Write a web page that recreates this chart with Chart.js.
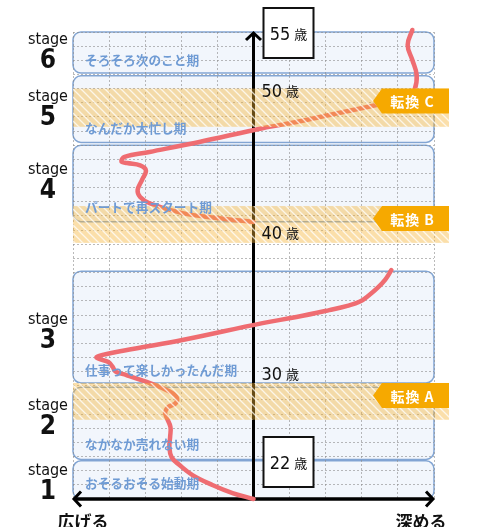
<!DOCTYPE html>
<html><head><meta charset="utf-8">
<script src="https://cdn.jsdelivr.net/npm/chart.js@4/dist/chart.umd.min.js"></script>
<style>html,body{margin:0;padding:0;background:#fff;overflow:hidden}canvas{display:block}</style>
</head><body>
<canvas id="c" width="480" height="527"></canvas>
<script>
// ---- data ----
const stageNumbers = ['1','2','3','4','5','6'];
const stageNames = ['おそるおそる始動期','なかなか売れない期','仕事って楽しかったんだ期','パートで再スタート期','なんだか大忙し期','そろそろ次のこと期'];
const stageStart = [22, 24.8, 30.2, 41.6, 47.2, 52.1];
const stageEnd   = [24.7, 29.9, 38.1, 47.0, 51.9, 55];
const stageLabelAge = [23.98, 28.57, 34.65, 45.25, 50.4, 54.43];
const stageNameAge  = [23.1, 25.9, 31.1, 42.6, 48.2, 53.0];
const turnLabels = ['転換 A','転換 B','転換 C'];
const turnFrom = [27.6, 40.1, 48.3];
const turnTo   = [30.2, 42.7, 51.0];
const ageTicks = [30, 40, 50];
const ageEnds = [22, 55];
const axisLabels = ['広げる', '深める'];
const ageUnit = '歳';

const path1X = [0, -0.58, -1.14, -1.69, -2.05, -2.27, -2.33, -2.31, -2.30, -2.40, -2.45, -2.36, -2.16, -2.12, -2.26, -2.55, -2.96, -3.52, -3.82, -3.90, -4.02, -4.27, -4.35, -4.21, -3.35, -1.97, 0.25, 1.19, 2.10, 2.60, 2.95, 3.20, 3.45, 3.65, 3.82];
const path1Y = [22, 22.42, 22.99, 23.69, 24.40, 24.96, 25.67, 26.38, 27.08, 27.72, 28.12, 28.50, 28.76, 29.13, 29.50, 29.86, 30.27, 30.76, 31.00, 31.33, 31.68, 31.89, 32.03, 32.17, 32.60, 33.23, 34.43, 34.86, 35.35, 35.65, 35.95, 36.40, 36.95, 37.50, 38.18];
const path2X = [0, -1.02, -1.97, -2.88, -3.14, -3.21, -3.09, -2.98, -3.14, -3.50, -3.66, -3.57, -2.88, -1.50, 0.25, 1.19, 2.10, 3.02, 3.75, 4.30, 4.46, 4.52, 4.40, 4.27, 4.40];
const path2Y = [41.57, 41.86, 42.20, 42.90, 43.34, 43.83, 44.54, 45.22, 45.58, 45.74, 45.85, 46.17, 46.52, 47.23, 48.20, 48.64, 49.13, 49.63, 50.05, 50.50, 50.90, 51.96, 53.02, 54.08, 55.14];

const toPts = (xs, ys) => xs.map((x, i) => ({x, y: ys[i]}));

const JP = '"Noto Sans CJK JP", "Noto Sans", sans-serif';
const NARROW = '"Liberation Sans Narrow", "DejaVu Sans Condensed", sans-serif';
const LINE_COLOR = '#ef6c71';

// hatch pattern
function makeHatch() {
  const c = document.createElement('canvas');
  c.width = 8; c.height = 8;
  const g = c.getContext('2d');
  g.strokeStyle = 'rgba(255,255,255,0.75)';
  g.lineWidth = 1.3;
  g.beginPath();
  g.moveTo(-2, -2); g.lineTo(10, 10);
  g.moveTo(-2, 6); g.lineTo(2, 10);
  g.moveTo(6, -2); g.lineTo(10, 2);
  g.stroke();
  return c;
}

const deco = {
  id: 'deco',
  beforeDraw(chart) {
    const ctx = chart.ctx, xs = chart.scales.x, ys = chart.scales.y;
    ctx.save();
    ctx.fillStyle = '#fff';
    ctx.fillRect(0, 0, chart.width, chart.height);
    const l = xs.getPixelForValue(-5), r = xs.getPixelForValue(5);
    for (let i = 0; i < stageStart.length; i++) {
      const t = ys.getPixelForValue(stageEnd[i]), b = ys.getPixelForValue(stageStart[i]);
      ctx.beginPath();
      ctx.roundRect(l, t, r - l, b - t, 8);
      ctx.fillStyle = '#f2f6fc';
      ctx.fill();
      ctx.lineWidth = 1.5;
      ctx.strokeStyle = '#82a5d3';
      ctx.stroke();
    }
    ctx.restore();
  },
  beforeDatasetsDraw(chart) {
    const ctx = chart.ctx, xs = chart.scales.x, ys = chart.scales.y;
    const x0 = xs.getPixelForValue(0);
    const yb = ys.getPixelForValue(ageEnds[0]), yt = ys.getPixelForValue(ageEnds[1]);
    const l = xs.getPixelForValue(-5), r = xs.getPixelForValue(5);
    ctx.save();
    ctx.strokeStyle = '#000';
    ctx.lineWidth = 3;
    ctx.lineJoin = 'miter';
    ctx.lineCap = 'butt';
    ctx.beginPath();
    ctx.moveTo(x0, yb); ctx.lineTo(x0, yt + 1);
    ctx.stroke();
    ctx.beginPath();
    ctx.moveTo(x0 - 7.5, yt + 8); ctx.lineTo(x0, yt + 1); ctx.lineTo(x0 + 7.5, yt + 8);
    ctx.stroke();
    ctx.lineWidth = 3.5;
    ctx.beginPath();
    ctx.moveTo(l + 1, yb); ctx.lineTo(r - 1, yb);
    ctx.stroke();
    ctx.lineWidth = 3;
    ctx.beginPath();
    ctx.moveTo(l + 8, yb - 7.5); ctx.lineTo(l + 1, yb); ctx.lineTo(l + 8, yb + 7.5);
    ctx.moveTo(r - 8, yb - 7.5); ctx.lineTo(r - 1, yb); ctx.lineTo(r - 8, yb + 7.5);
    ctx.stroke();
    ctx.restore();
  },
  afterDatasetsDraw(chart) {
    const ctx = chart.ctx, xs = chart.scales.x, ys = chart.scales.y;
    const l = xs.getPixelForValue(-5), r = xs.getPixelForValue(5);
    const x0 = xs.getPixelForValue(0);
    ctx.save();
    // bands
    const pat = ctx.createPattern(makeHatch(), 'repeat');
    for (let i = 0; i < turnFrom.length; i++) {
      const t = ys.getPixelForValue(turnTo[i]), b = ys.getPixelForValue(turnFrom[i]);
      ctx.fillStyle = 'rgba(246,178,52,0.42)';
      ctx.fillRect(l, t, r + 15 - l, b - t);
      ctx.fillStyle = pat;
      ctx.fillRect(l, t, r + 15 - l, b - t);
    }
    // stage names
    ctx.fillStyle = '#6f9bd4';
    ctx.font = 'bold 12.7px ' + JP;
    ctx.textBaseline = 'middle';
    ctx.textAlign = 'left';
    for (let i = 0; i < stageNames.length; i++) {
      ctx.fillText(stageNames[i], l + 12, ys.getPixelForValue(stageNameAge[i]));
    }
    // age tick labels
    function ageText(num, cx, cy, center) {
      ctx.font = '18px ' + NARROW;
      const w1 = ctx.measureText(num).width;
      ctx.font = '13px ' + JP;
      const w2 = ctx.measureText(ageUnit).width;
      const total = w1 + 4 + w2;
      const sx = center ? cx - total / 2 : cx;
      ctx.fillStyle = '#111';
      ctx.textAlign = 'left';
      ctx.textBaseline = 'alphabetic';
      ctx.font = '18px ' + NARROW;
      ctx.fillText(num, sx, cy + 6.5);
      ctx.font = '13px ' + JP;
      ctx.fillText(ageUnit, sx + w1 + 4, cy + 5.5);
    }
    for (const a of ageTicks) {
      ageText(String(a), x0 + 8, ys.getPixelForValue(a + 0.85), false);
    }
    // badges
    for (let i = 0; i < turnLabels.length; i++) {
      const t = ys.getPixelForValue(turnTo[i]);
      const h = 25, tip = r - 61, body = tip + 9, right = r + 15;
      ctx.beginPath();
      ctx.moveTo(tip, t + h / 2);
      ctx.lineTo(body, t);
      ctx.lineTo(right, t);
      ctx.lineTo(right, t + h);
      ctx.lineTo(body, t + h);
      ctx.closePath();
      ctx.fillStyle = '#f6a900';
      ctx.fill();
      ctx.fillStyle = '#fff';
      ctx.font = 'bold 14px ' + JP;
      ctx.textAlign = 'center';
      ctx.textBaseline = 'middle';
      ctx.letterSpacing = '1px';
      ctx.fillText(turnLabels[i], (body + right) / 2 - 3, t + h / 2 + 1);
      ctx.letterSpacing = '0px';
    }
    // age end boxes
    const boxCenters = [ys.getPixelForValue(ageEnds[0]) - 37, ys.getPixelForValue(ageEnds[1]) + 1];
    for (let i = 0; i < ageEnds.length; i++) {
      const cy = boxCenters[i];
      const bx = x0 + 10, bw = 50, bh = 50;
      ctx.fillStyle = '#fff';
      ctx.fillRect(bx, cy - bh / 2, bw, bh);
      ctx.strokeStyle = '#111';
      ctx.lineWidth = 2;
      ctx.strokeRect(bx, cy - bh / 2, bw, bh);
      ageText(String(ageEnds[i]), bx + bw / 2, cy, true);
    }
    // stage labels
    ctx.fillStyle = '#111';
    ctx.textAlign = 'center';
    ctx.textBaseline = 'middle';
    for (let i = 0; i < stageNumbers.length; i++) {
      const y = ys.getPixelForValue(stageLabelAge[i]);
      ctx.font = '16px ' + NARROW;
      ctx.fillText('stage', 48, y);
      ctx.font = 'bold 26px ' + NARROW;
      ctx.fillText(stageNumbers[i], 48, y + 21);
    }
    // bottom labels
    ctx.font = 'bold 17px ' + JP;
    ctx.fillStyle = '#111';
    ctx.textBaseline = 'middle';
    ctx.fillText(axisLabels[0], l + 10, chart.height - 5);
    ctx.fillText(axisLabels[1], r - 13, chart.height - 5);
    ctx.restore();
  }
};

const lineStyle = {
  showLine: true,
  borderColor: LINE_COLOR,
  borderWidth: 4.5,
  pointRadius: 0,
  pointHoverRadius: 0,
  tension: 0.4,
  fill: false,
  clip: false,
  borderCapStyle: 'round',
  borderJoinStyle: 'round'
};

new Chart(document.getElementById('c'), {
  type: 'scatter',
  data: {
    datasets: [
      Object.assign({label: 'path1', data: toPts(path1X, path1Y)}, lineStyle),
      Object.assign({label: 'path2', data: toPts(path2X, path2Y)}, lineStyle)
    ]
  },
  options: {
    responsive: false,
    animation: false,
    events: [],
    layout: {padding: {left: 73, right: 46, top: 32, bottom: 28}},
    plugins: {legend: {display: false}, tooltip: {enabled: false}},
    scales: {
      x: {
        type: 'linear', min: -5, max: 5,
        ticks: {display: false, stepSize: 1},
        grid: {drawTicks: false, color: 'rgba(140,140,140,0.6)', lineWidth: 1},
        border: {display: false, dash: [2, 2]}
      },
      y: {
        type: 'linear', min: 22, max: 55,
        ticks: {display: false, stepSize: 1},
        grid: {drawTicks: false, color: 'rgba(140,140,140,0.6)', lineWidth: 1},
        border: {display: false, dash: [2, 2]}
      }
    }
  },
  plugins: [deco]
});
</script>
</body></html>
